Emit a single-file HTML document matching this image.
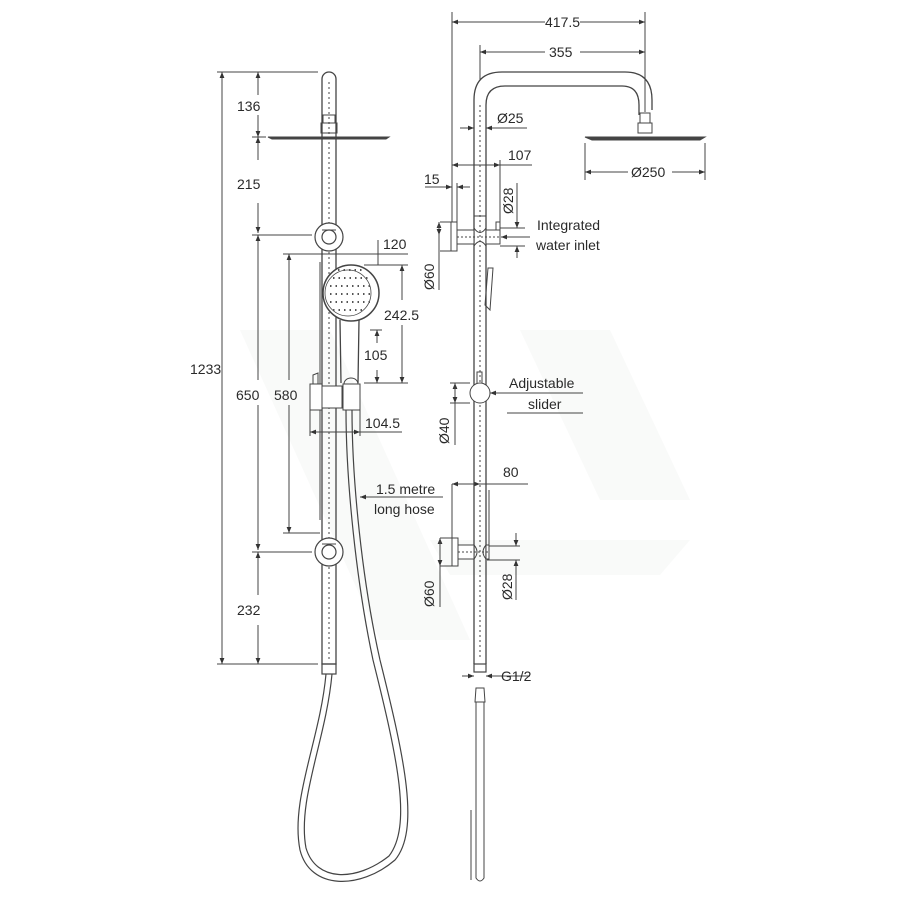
<!DOCTYPE html>
<html><head><meta charset="utf-8"><style>
html,body{margin:0;padding:0;background:#fff;}
svg{display:block;}
text{font-family:"Liberation Sans",sans-serif;font-size:14px;fill:#2a2a2a;}
</style></head><body>
<svg width="900" height="900" viewBox="0 0 900 900" xmlns="http://www.w3.org/2000/svg">
<defs>
<marker id="a" viewBox="0 0 10 10" refX="10" refY="5" markerWidth="6" markerHeight="6" orient="auto-start-reverse"><path d="M0,1 L10,5 L0,9z" fill="#333"/></marker>
</defs>
<g fill="#f9faf9">
<polygon points="240,330 330,330 470,640 380,640"/>
<polygon points="520,330 610,330 690,500 600,500"/>
<polygon points="430,540 690,540 660,575 450,575"/>
</g>
<g stroke="#444" stroke-width="1" fill="none">
<line x1="217" y1="72" x2="318" y2="72"/>
<line x1="222" y1="72" x2="222" y2="664" marker-start="url(#a)" marker-end="url(#a)"/>
<line x1="217" y1="664" x2="318" y2="664"/>
<line x1="258" y1="72" x2="258" y2="95" marker-start="url(#a)"/>
<line x1="258" y1="115" x2="258" y2="137" marker-end="url(#a)"/>
<line x1="252" y1="137" x2="266" y2="137"/>
<line x1="258" y1="137" x2="258" y2="160" marker-start="url(#a)"/>
<line x1="258" y1="203" x2="258" y2="233" marker-end="url(#a)"/>
<line x1="252" y1="235" x2="312" y2="235"/>
<line x1="258" y1="235" x2="258" y2="380" marker-start="url(#a)"/>
<line x1="258" y1="405" x2="258" y2="550" marker-end="url(#a)"/>
<line x1="252" y1="552" x2="312" y2="552"/>
<line x1="258" y1="552" x2="258" y2="595" marker-start="url(#a)"/>
<line x1="258" y1="625" x2="258" y2="664" marker-end="url(#a)"/>
<line x1="283" y1="254" x2="408" y2="254"/>
<line x1="289" y1="254" x2="289" y2="380" marker-start="url(#a)"/>
<line x1="289" y1="405" x2="289" y2="533" marker-end="url(#a)"/>
<line x1="283" y1="533" x2="320" y2="533"/>
<line x1="378" y1="240" x2="378" y2="265"/>
<line x1="364" y1="265" x2="408" y2="265"/>
<line x1="402" y1="265" x2="402" y2="300" marker-start="url(#a)"/>
<line x1="402" y1="325" x2="402" y2="383" marker-end="url(#a)"/>
<line x1="364" y1="383" x2="408" y2="383"/>
<line x1="370" y1="330" x2="382" y2="330"/>
<line x1="377" y1="330" x2="377" y2="343" marker-start="url(#a)"/>
<line x1="377" y1="370" x2="377" y2="383" marker-end="url(#a)"/>
<line x1="310" y1="432" x2="360" y2="432" marker-start="url(#a)" marker-end="url(#a)"/>
<line x1="360" y1="432" x2="402" y2="432"/>
<line x1="310" y1="410" x2="310" y2="436"/>
<line x1="360" y1="410" x2="360" y2="436"/>
<line x1="360" y1="497" x2="443" y2="497" marker-start="url(#a)"/>
<path d="M322,664 L322,79 A7,7 0 0 1 336,79 L336,664 Z" stroke-width="1.3"/>
<line x1="329" y1="82" x2="329" y2="660" stroke-dasharray="2,3"/>
<rect x="322" y="664" width="14" height="10" stroke-width="1.2"/>
<rect x="323" y="115" width="12" height="8"/>
<rect x="321" y="123" width="16" height="10"/>
<path d="M268,137 L389,137 L386,139 L272,139 Z" fill="#444"/>
<circle cx="329" cy="237" r="14" stroke-width="1.2" fill="#fff"/>
<circle cx="329" cy="237" r="7" stroke-width="1.2"/>
<circle cx="329" cy="552" r="14" stroke-width="1.2" fill="#fff"/>
<circle cx="329" cy="552" r="7" stroke-width="1.2"/>
<line x1="322" y1="230" x2="336" y2="230"/>
<line x1="322" y1="544" x2="336" y2="544"/>
<circle cx="351" cy="293" r="28" stroke-width="1.5" fill="#fff"/>
<circle cx="348" cy="293" r="23" stroke-width="0.8"/>
<path d="M340,320 L341,383 M359,320 L358,383" stroke-width="1.3"/>
<path d="M320,262 L320,520" stroke-width="1"/>
<g stroke="#555" stroke-width="2" stroke-dasharray="1.5,4">
<line x1="333" y1="278" x2="368" y2="278"/><line x1="330" y1="286" x2="370" y2="286"/><line x1="330" y1="294" x2="370" y2="294"/><line x1="330" y1="302" x2="370" y2="302"/><line x1="333" y1="310" x2="366" y2="310"/><line x1="338" y1="270" x2="362" y2="270"/>
</g>
<rect x="310" y="384" width="12" height="26" fill="#fff"/>
<rect x="322" y="386" width="20" height="22" fill="#fff"/>
<rect x="343" y="384" width="17" height="26" fill="#fff"/>
<path d="M313,384 L313,375 L318,373 L318,384"/>
<path d="M344,384 A7,6 0 0 1 358,384"/>
<path d="M326,674 C320,740 290,800 300,850 C310,890 360,890 395,860 C420,830 405,760 380,660 C362,580 352,480 352,410" stroke-width="1.2"/>
<path d="M332,674 C326,740 297,800 306,848 C316,882 356,882 389,856 C412,826 398,760 373,660 C356,580 346,480 346,410" stroke-width="1.2"/>
<line x1="452" y1="12" x2="452" y2="222"/>
<line x1="645" y1="12" x2="645" y2="110"/>
<line x1="452" y1="22" x2="545" y2="22" marker-start="url(#a)"/>
<line x1="580" y1="22" x2="645" y2="22" marker-end="url(#a)"/>
<line x1="480" y1="45" x2="480" y2="80"/>
<line x1="480" y1="52" x2="545" y2="52" marker-start="url(#a)"/>
<line x1="580" y1="52" x2="645" y2="52" marker-end="url(#a)"/>
<line x1="460" y1="128" x2="474" y2="128" marker-end="url(#a)"/>
<line x1="486" y1="128" x2="527" y2="128" marker-start="url(#a)"/>
<line x1="452" y1="165" x2="500" y2="165" marker-start="url(#a)" marker-end="url(#a)"/>
<line x1="500" y1="165" x2="532" y2="165"/>
<line x1="500" y1="160" x2="500" y2="235"/>
<line x1="425" y1="187" x2="452" y2="187" marker-end="url(#a)"/>
<line x1="457" y1="187" x2="470" y2="187" marker-start="url(#a)"/>
<line x1="457" y1="183" x2="457" y2="222"/>
<line x1="585" y1="143" x2="585" y2="180"/>
<line x1="705" y1="143" x2="705" y2="180"/>
<line x1="585" y1="172" x2="628" y2="172" marker-start="url(#a)"/>
<line x1="672" y1="172" x2="705" y2="172" marker-end="url(#a)"/>
<line x1="440" y1="222" x2="452" y2="222"/><line x1="440" y1="251" x2="452" y2="251"/>
<line x1="439" y1="222" x2="439" y2="290" marker-start="url(#a)"/>
<line x1="439" y1="222" x2="439" y2="235" marker-end="url(#a)"/>
<line x1="500" y1="228" x2="525" y2="228"/><line x1="500" y1="246" x2="525" y2="246"/>
<line x1="517" y1="183" x2="517" y2="228" marker-end="url(#a)"/>
<line x1="517" y1="246" x2="517" y2="258" marker-start="url(#a)"/>
<line x1="501" y1="237" x2="530" y2="237" marker-start="url(#a)"/>
<line x1="490" y1="393" x2="583" y2="393" marker-start="url(#a)"/>
<line x1="507" y1="413" x2="583" y2="413"/>
<line x1="450" y1="383" x2="470" y2="383"/><line x1="450" y1="403" x2="470" y2="403"/>
<line x1="455" y1="383" x2="455" y2="445" marker-start="url(#a)"/>
<line x1="455" y1="383" x2="455" y2="403" marker-end="url(#a)"/>
<line x1="452" y1="484" x2="480" y2="484" marker-start="url(#a)" marker-end="url(#a)"/>
<line x1="480" y1="484" x2="528" y2="484"/>
<line x1="452" y1="484" x2="452" y2="538"/>
<line x1="440" y1="538" x2="452" y2="538"/><line x1="440" y1="566" x2="452" y2="566"/>
<line x1="440" y1="538" x2="440" y2="607" marker-start="url(#a)"/>
<line x1="440" y1="538" x2="440" y2="566" marker-end="url(#a)"/>
<line x1="487" y1="546" x2="520" y2="546"/><line x1="487" y1="560" x2="520" y2="560"/>
<line x1="516" y1="533" x2="516" y2="546" marker-end="url(#a)"/>
<line x1="516" y1="560" x2="516" y2="600" marker-start="url(#a)"/>
<line x1="462" y1="676" x2="474" y2="676" marker-end="url(#a)"/>
<line x1="486" y1="676" x2="530" y2="676" marker-start="url(#a)"/>
<path d="M474,664 L474,100 Q474,72 502,72 L625,72 Q652,72 652,100 L652,110" stroke-width="1.3"/>
<path d="M486,664 L486,105 Q486,86 505,86 L622,86 Q639,86 639,105 L639,115" stroke-width="1.3"/>
<line x1="480" y1="105" x2="480" y2="660" stroke-dasharray="2,3"/>
<line x1="645" y1="100" x2="645" y2="115" stroke-dasharray="2,3"/>
<rect x="640" y="113" width="10" height="10"/>
<rect x="638" y="123" width="14" height="10"/>
<path d="M585,137 L705,137 L700,140 L592,140 Z" fill="#444"/>
<rect x="474" y="664" width="12" height="8" stroke-width="1.2"/>
<rect x="451" y="222" width="6" height="29" fill="#fff"/>
<rect x="457" y="230" width="17" height="14" fill="#fff"/>
<rect x="486" y="230" width="14" height="14" fill="#fff"/>
<path d="M474,216 L486,216 M474,228 Q480,237 486,228 M474,246 Q480,237 486,246"/>
<path d="M496,230 L496,222 L500,222 L500,230"/>
<line x1="457" y1="237" x2="500" y2="237" stroke-dasharray="2,2"/>
<circle cx="480" cy="393" r="10" fill="#fff"/>
<path d="M477,383 L477,372 L482,372 L482,383"/>
<path d="M488,268 L493,268 L490,310 L485,305 Z"/>
<rect x="452" y="538" width="6" height="28" fill="#fff"/>
<rect x="458" y="545" width="16" height="14" fill="#fff"/>
<rect x="486" y="545" width="3" height="14" fill="#fff"/>
<line x1="458" y1="552" x2="489" y2="552" stroke-dasharray="2,2"/>
<path d="M474,545 Q480,552 474,559 M486,545 Q480,552 486,559"/>
<line x1="489" y1="490" x2="489" y2="545"/>
<path d="M476,688 L484,688 L485,702 L475,702 Z"/>
<path d="M476,702 L476,878 Q480,884 484,878 L484,702"/>
<path d="M471,810 L471,880"/>
</g>
<text x="237" y="111">136</text>
<text x="237" y="189">215</text>
<text x="190" y="374">1233</text>
<text x="236" y="400">650</text>
<text x="274" y="400">580</text>
<text x="237" y="615">232</text>
<text x="383" y="249">120</text>
<text x="384" y="320">242.5</text>
<text x="364" y="360">105</text>
<text x="365" y="428">104.5</text>
<text x="376" y="494">1.5 metre</text>
<text x="374" y="514">long hose</text>
<text x="545" y="27">417.5</text>
<text x="549" y="57">355</text>
<text x="497" y="123">Ø25</text>
<text x="508" y="160">107</text>
<text x="424" y="184">15</text>
<text x="631" y="177">Ø250</text>
<text x="537" y="230">Integrated</text>
<text x="536" y="250">water inlet</text>
<text x="509" y="388">Adjustable</text>
<text x="528" y="409">slider</text>
<text x="503" y="477">80</text>
<text x="501" y="681">G1/2</text>
<text transform="translate(513,214) rotate(-90)">Ø28</text>
<text transform="translate(434,290) rotate(-90)">Ø60</text>
<text transform="translate(449,444) rotate(-90)">Ø40</text>
<text transform="translate(434,607) rotate(-90)">Ø60</text>
<text transform="translate(512,600) rotate(-90)">Ø28</text>
</svg>
</body></html>
